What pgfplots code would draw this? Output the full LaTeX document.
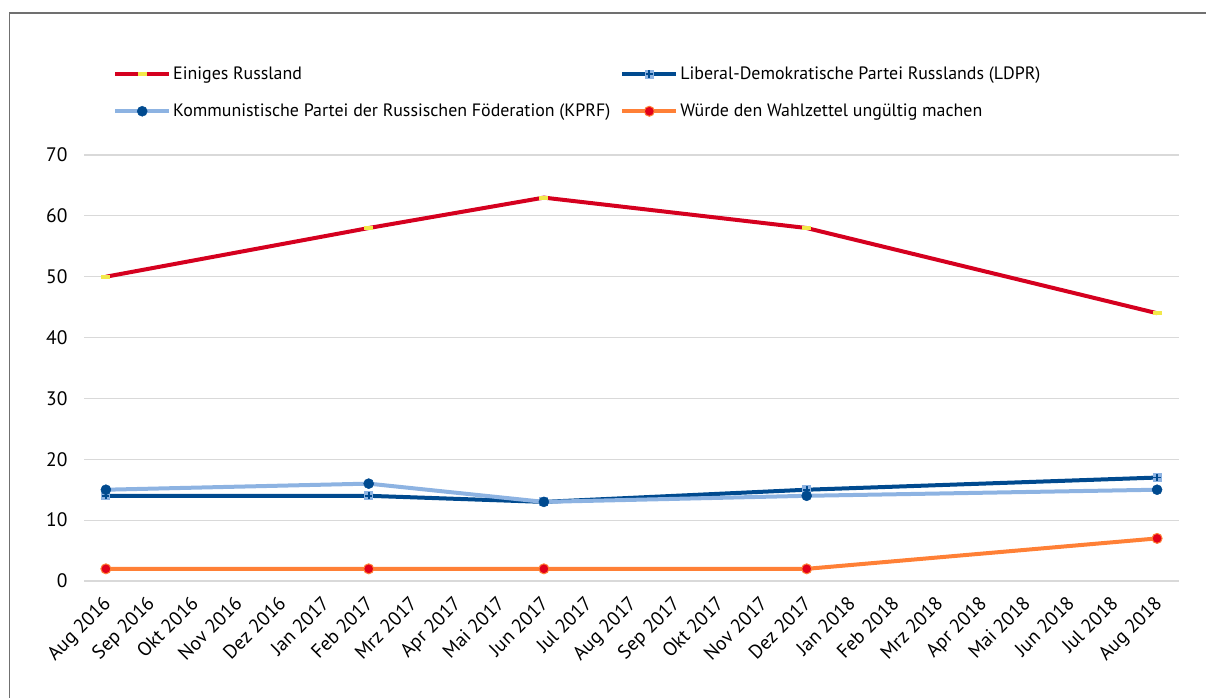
\documentclass[border=0pt]{standalone}
\usepackage{pgfplots}
\pgfplotsset{compat=1.18}
\usepackage{fontspec}
\setmainfont{PT Sans}
\definecolor{erred}{HTML}{D5001F}
\definecolor{ermark}{HTML}{F2E84A}
\definecolor{dkblue}{HTML}{004A8F}
\definecolor{ltblue}{HTML}{8DB3E2}
\definecolor{orng}{HTML}{FF8036}
\definecolor{mred}{HTML}{E2001A}
\definecolor{gridc}{HTML}{D9D9D9}
\definecolor{framec}{HTML}{707070}
\pgfdeclareplotmark{sqplus}{%
  \pgfpathrectangle{\pgfpoint{-\pgfplotmarksize}{-\pgfplotmarksize}}{\pgfpoint{2\pgfplotmarksize}{2\pgfplotmarksize}}%
  \pgfsetfillcolor{ltblue}\pgfusepath{fill}%
  \pgfpathmoveto{\pgfpoint{-0.8\pgfplotmarksize}{0pt}}\pgfpathlineto{\pgfpoint{0.8\pgfplotmarksize}{0pt}}%
  \pgfpathmoveto{\pgfpoint{0pt}{-0.8\pgfplotmarksize}}\pgfpathlineto{\pgfpoint{0pt}{0.8\pgfplotmarksize}}%
  \pgfsetstrokecolor{dkblue}\pgfsetlinewidth{1.8pt}\pgfusepath{stroke}}
\begin{document}
\begin{tikzpicture}
\useasboundingbox (-84pt,-116pt) rectangle (1122pt,581pt);
\draw[framec, line width=1.6pt] (-74.5pt,-130pt) -- (-74.5pt,568pt) -- (1130pt,568pt);
\begin{axis}[
  at={(0pt,0pt)}, anchor=south west,
  scale only axis, width=1095pt, height=426pt,
  xmin=-0.5, xmax=24.5, ymin=0, ymax=70,
  axis line style={draw=none},
  ytick={0,10,...,70},
  xtick={0,...,24},
  xticklabels={Aug 2016,Sep 2016,Okt 2016,Nov 2016,Dez 2016,Jan 2017,Feb 2017,Mrz 2017,Apr 2017,Mai 2017,Jun 2017,Jul 2017,Aug 2017,Sep 2017,Okt 2017,Nov 2017,Dez 2017,Jan 2018,Feb 2018,Mrz 2018,Apr 2018,Mai 2018,Jun 2018,Jul 2018,Aug 2018},
  major tick length=0pt,
  ymajorgrids, grid style={gridc, line width=1.2pt},
  extra y ticks={0}, extra y tick labels={}, extra y tick style={grid style={gridc,line width=2.4pt}},
  tick label style={font=\fontsize{19.5}{22}\selectfont, /pgf/number format/assume math mode=true},
  yticklabel style={xshift=-13pt},
  xticklabel style={xshift=-4pt, yshift=-12pt, rotate=45, anchor=north east, inner sep=1pt},
  legend columns=2,
  legend style={at={(0.0265,1.212)}, anchor=north west, draw=none, fill=none,
    font=\fontsize{17.9}{21}\selectfont, row sep=19pt,
    /tikz/every even column/.append style={column sep=8pt},
    inner sep=0pt},
  legend cell align=left,
  legend image code/.code={\draw[mark repeat=2,mark phase=2,#1] plot coordinates {(0pt,0pt) (27pt,0pt) (54pt,0pt)};},
  every axis plot/.append style={line width=4pt},
  clip=false,
]
\addplot[erred, mark=-, mark size=4.5pt, mark options={draw=ermark, line width=4pt, solid}]
  coordinates {(0,50) (6,58) (10,63) (16,58) (24,44)};
\addlegendentry{Einiges Russland}
\addplot[dkblue, mark=sqplus, mark size=4.5pt]
  coordinates {(0,14) (6,14) (10,13) (16,15) (24,17)};
\addlegendentry{Liberal-Demokratische Partei Russlands (LDPR)}
\addplot[ltblue, mark=*, mark size=5pt, mark options={fill=dkblue, draw=dkblue, line width=0.5pt}]
  coordinates {(0,15) (6,16) (10,13) (16,14) (24,15)};
\addlegendentry{Kommunistische Partei der Russischen Föderation (KPRF)}
\addplot[orng, mark=*, mark size=5pt, mark options={fill=mred, draw=orng, line width=1pt}]
  coordinates {(0,2) (6,2) (10,2) (16,2) (24,7)};
\addlegendentry{Würde den Wahlzettel ungültig machen}
\end{axis}
\end{tikzpicture}
\end{document}
